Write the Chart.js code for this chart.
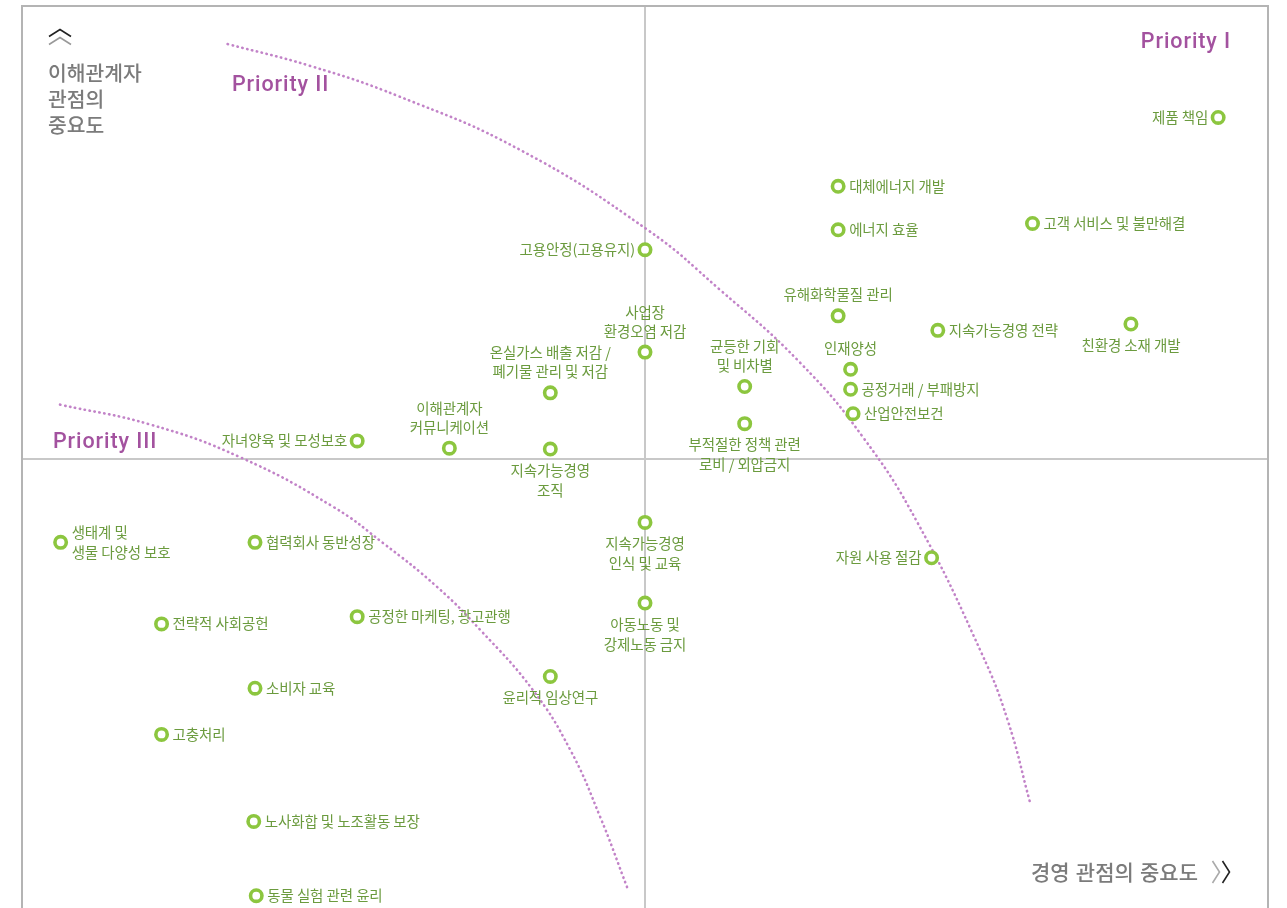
<!DOCTYPE html>
<html>
<head>
<meta charset="utf-8">
<script src="https://cdn.jsdelivr.net/npm/chart.js@4.4.1/dist/chart.umd.min.js"></script>
<style>
html, body { margin: 0; padding: 0; background: #fff; overflow: hidden; }
#wrap { width: 1287px; height: 912px; }
</style>
</head>
<body>
<div id="wrap"><canvas id="matrix"></canvas></div>
<script>
// 이슈 이름 (줄바꿈은 \n)
const issues = [
  "제품 책임", "대체에너지 개발", "에너지 효율", "고객 서비스 및 불만해결", "고용안정(고용유지)",
  "유해화학물질 관리", "지속가능경영 전략", "친환경 소재 개발", "사업장\n환경오염 저감",
  "온실가스 배출 저감 /\n폐기물 관리 및 저감", "균등한 기회\n및 비차별", "인재양성", "공정거래 / 부패방지",
  "산업안전보건", "부적절한 정책 관련\n로비 / 외압금지", "자녀양육 및 모성보호", "이해관계자\n커뮤니케이션",
  "지속가능경영\n조직", "생태계 및\n생물 다양성 보호", "협력회사 동반성장", "지속가능경영\n인식 및 교육",
  "자원 사용 절감", "전략적 사회공헌", "공정한 마케팅, 광고관행", "아동노동 및\n강제노동 금지",
  "윤리적 임상연구", "소비자 교육", "고충처리", "노사화합 및 노조활동 보장", "동물 실험 관련 윤리"
];
// 경영 관점의 중요도 (x)
const bizImportance = [
  96.0, 65.5, 65.5, 81.1, 50.0,
  65.5, 73.5, 89.0, 50.0,
  42.4, 58.0, 66.5, 66.5,
  66.7, 58.0, 26.9, 34.3,
  42.4, 3.1, 18.7, 50.0,
  73.0, 11.2, 26.9, 50.0,
  42.4, 18.7, 11.2, 18.6, 18.8
];
// 이해관계자 관점의 중요도 (y)
const stakeholderImportance = [
  87.7, 80.1, 75.3, 76.0, 73.1,
  65.8, 64.2, 64.9, 61.8,
  57.3, 58.0, 59.9, 57.7,
  55.0, 53.9, 52.0, 51.2,
  51.1, 40.8, 40.8, 43.0,
  39.1, 31.8, 32.6, 34.1,
  26.0, 24.7, 19.6, 10.0, 1.8
];
// 라벨 위치
const labelSide = [
  "left", "right", "right", "right", "left",
  "above", "right", "below", "above",
  "above", "above", "above", "right",
  "right", "below", "left", "above",
  "below", "right", "right", "below",
  "left", "right", "right", "below",
  "below", "right", "right", "right", "right"
];
// 우선순위 경계선 (점선)
const outerCurveX = [16.5, 23.1, 30.3, 40.0, 50.2, 56.0, 62.4, 67.5, 71.9, 77.0, 79.1, 80.9];
const outerCurveY = [95.8, 93.4, 90.0, 84.1, 75.3, 68.7, 60.7, 52.4, 42.9, 28.6, 21.2, 12.1];
const innerCurveX = [3.05, 10.3, 17.5, 25.0, 29.0, 33.3, 36.8, 41.0, 44.0, 46.4, 48.6];
const innerCurveY = [56.0, 53.8, 50.2, 44.7, 40.7, 35.9, 31.1, 24.5, 17.9, 10.5, 2.6];

const green = '#8cc63f';
const textGreen = '#6b9b3e';
const purple = '#a3529f';
const dotPurple = '#c283c8';
const gray = '#7b7b7b';
const krFont = '"Noto Sans CJK KR", "Noto Sans", sans-serif';

function toPoints(xs, ys) {
  return xs.map((v, i) => ({ x: v, y: ys[i] }));
}

function chevron(ctx, x, y, w, h, dir, color) {
  ctx.strokeStyle = color;
  ctx.lineWidth = 1.6;
  ctx.beginPath();
  if (dir === 'up') {
    ctx.moveTo(x - w / 2, y + h / 2); ctx.lineTo(x, y - h / 2); ctx.lineTo(x + w / 2, y + h / 2);
  } else {
    ctx.moveTo(x - w / 2, y - h / 2); ctx.lineTo(x + w / 2, y); ctx.lineTo(x - w / 2, y + h / 2);
  }
  ctx.stroke();
}

const framePlugin = {
  id: 'frame',
  beforeDatasetsDraw(chart) {
    const { ctx, chartArea: a, scales: { x, y } } = chart;
    const cx = x.getPixelForValue(50), cy = y.getPixelForValue(50);
    ctx.save();
    ctx.lineWidth = 2;
    ctx.strokeStyle = '#c8c8c8';
    ctx.beginPath();
    ctx.moveTo(cx, a.top); ctx.lineTo(cx, a.bottom);
    ctx.moveTo(a.left, cy); ctx.lineTo(a.right, cy);
    ctx.stroke();
    ctx.strokeStyle = '#b4b4b4';
    ctx.beginPath();
    ctx.moveTo(a.left, a.bottom); ctx.lineTo(a.left, a.top);
    ctx.lineTo(a.right, a.top); ctx.lineTo(a.right, a.bottom);
    ctx.stroke();

    // 축 제목
    ctx.fillStyle = gray;
    ctx.font = '500 20.4px ' + krFont;
    ctx.letterSpacing = '0px';
    ctx.textBaseline = 'middle';
    ctx.textAlign = 'left';
    ['이해관계자', '관점의', '중요도'].forEach((t, i) => ctx.fillText(t, a.left + 26, 73 + i * 26));
    ctx.textAlign = 'right';
    ctx.font = '500 21px ' + krFont;
    ctx.wordSpacing = '1.5px';
    ctx.fillText('경영 관점의 중요도', a.right - 70, 872);
    ctx.wordSpacing = '0px';
    chevron(ctx, 60, 33, 22, 7, 'up', '#222');
    chevron(ctx, 60, 41, 22, 7, 'up', '#999');
    chevron(ctx, 1216, 872, 7, 22, 'right', '#aaa');
    chevron(ctx, 1226, 872, 7, 22, 'right', '#222');

    // 우선순위
    ctx.fillStyle = purple;
    ctx.font = '500 21.5px Roboto, sans-serif';
    ctx.letterSpacing = '0.9px';
    ctx.textAlign = 'right';
    ctx.fillText('Priority I', 1231, 43);
    ctx.textAlign = 'left';
    ctx.fillText('Priority II', 232, 86);
    ctx.fillText('Priority III', 53, 443);
    ctx.restore();
  }
};

const labelPlugin = {
  id: 'issueLabels',
  afterDatasetsDraw(chart) {
    const { ctx } = chart;
    const meta = chart.getDatasetMeta(0);
    ctx.save();
    ctx.fillStyle = textGreen;
    ctx.font = '14.5px ' + krFont;
    ctx.letterSpacing = '-0.1px';
    ctx.textBaseline = 'middle';
    const lh = 20;
    meta.data.forEach((pt, i) => {
      const lines = issues[i].split('\n');
      const side = labelSide[i];
      const n = lines.length;
      lines.forEach((t, k) => {
        let tx = pt.x, ty = pt.y;
        if (side === 'right') {
          ctx.textAlign = 'left'; tx += 11; ty += (k - (n - 1) / 2) * lh;
        } else if (side === 'left') {
          ctx.textAlign = 'right'; tx -= 10; ty += (k - (n - 1) / 2) * lh;
        } else if (side === 'above') {
          ctx.textAlign = 'center'; ty -= 21 + (n - 1 - k) * 19;
        } else {
          ctx.textAlign = 'center'; ty += 21 + k * 20;
        }
        ctx.fillText(t, tx, ty);
      });
    });
    ctx.restore();
  }
};

new Chart(document.getElementById('matrix'), {
  type: 'scatter',
  data: {
    datasets: [
      {
        label: '이슈',
        data: toPoints(bizImportance, stakeholderImportance),
        pointRadius: 5.7,
        pointBorderWidth: 3.6,
        pointBorderColor: green,
        pointBackgroundColor: '#fff',
        pointHoverRadius: 5.7
      },
      {
        label: 'Priority I 경계',
        data: toPoints(outerCurveX, outerCurveY),
        showLine: true,
        pointRadius: 0,
        borderColor: dotPurple,
        borderWidth: 2.6,
        borderDash: [0.4, 4.6],
        borderCapStyle: 'round',
        tension: 0.45
      },
      {
        label: 'Priority II 경계',
        data: toPoints(innerCurveX, innerCurveY),
        showLine: true,
        pointRadius: 0,
        borderColor: dotPurple,
        borderWidth: 2.6,
        borderDash: [0.4, 4.6],
        borderCapStyle: 'round',
        tension: 0.45
      }
    ]
  },
  options: {
    responsive: true,
    maintainAspectRatio: false,
    animation: false,
    layout: { autoPadding: false, padding: { left: 22, top: 6, right: 19, bottom: 0 } },
    scales: {
      x: { type: 'linear', min: 0, max: 100, display: false },
      y: { type: 'linear', min: 0, max: 100, display: false }
    },
    plugins: {
      legend: { display: false },
      tooltip: { enabled: false }
    }
  },
  plugins: [framePlugin, labelPlugin]
});
</script>
</body>
</html>
